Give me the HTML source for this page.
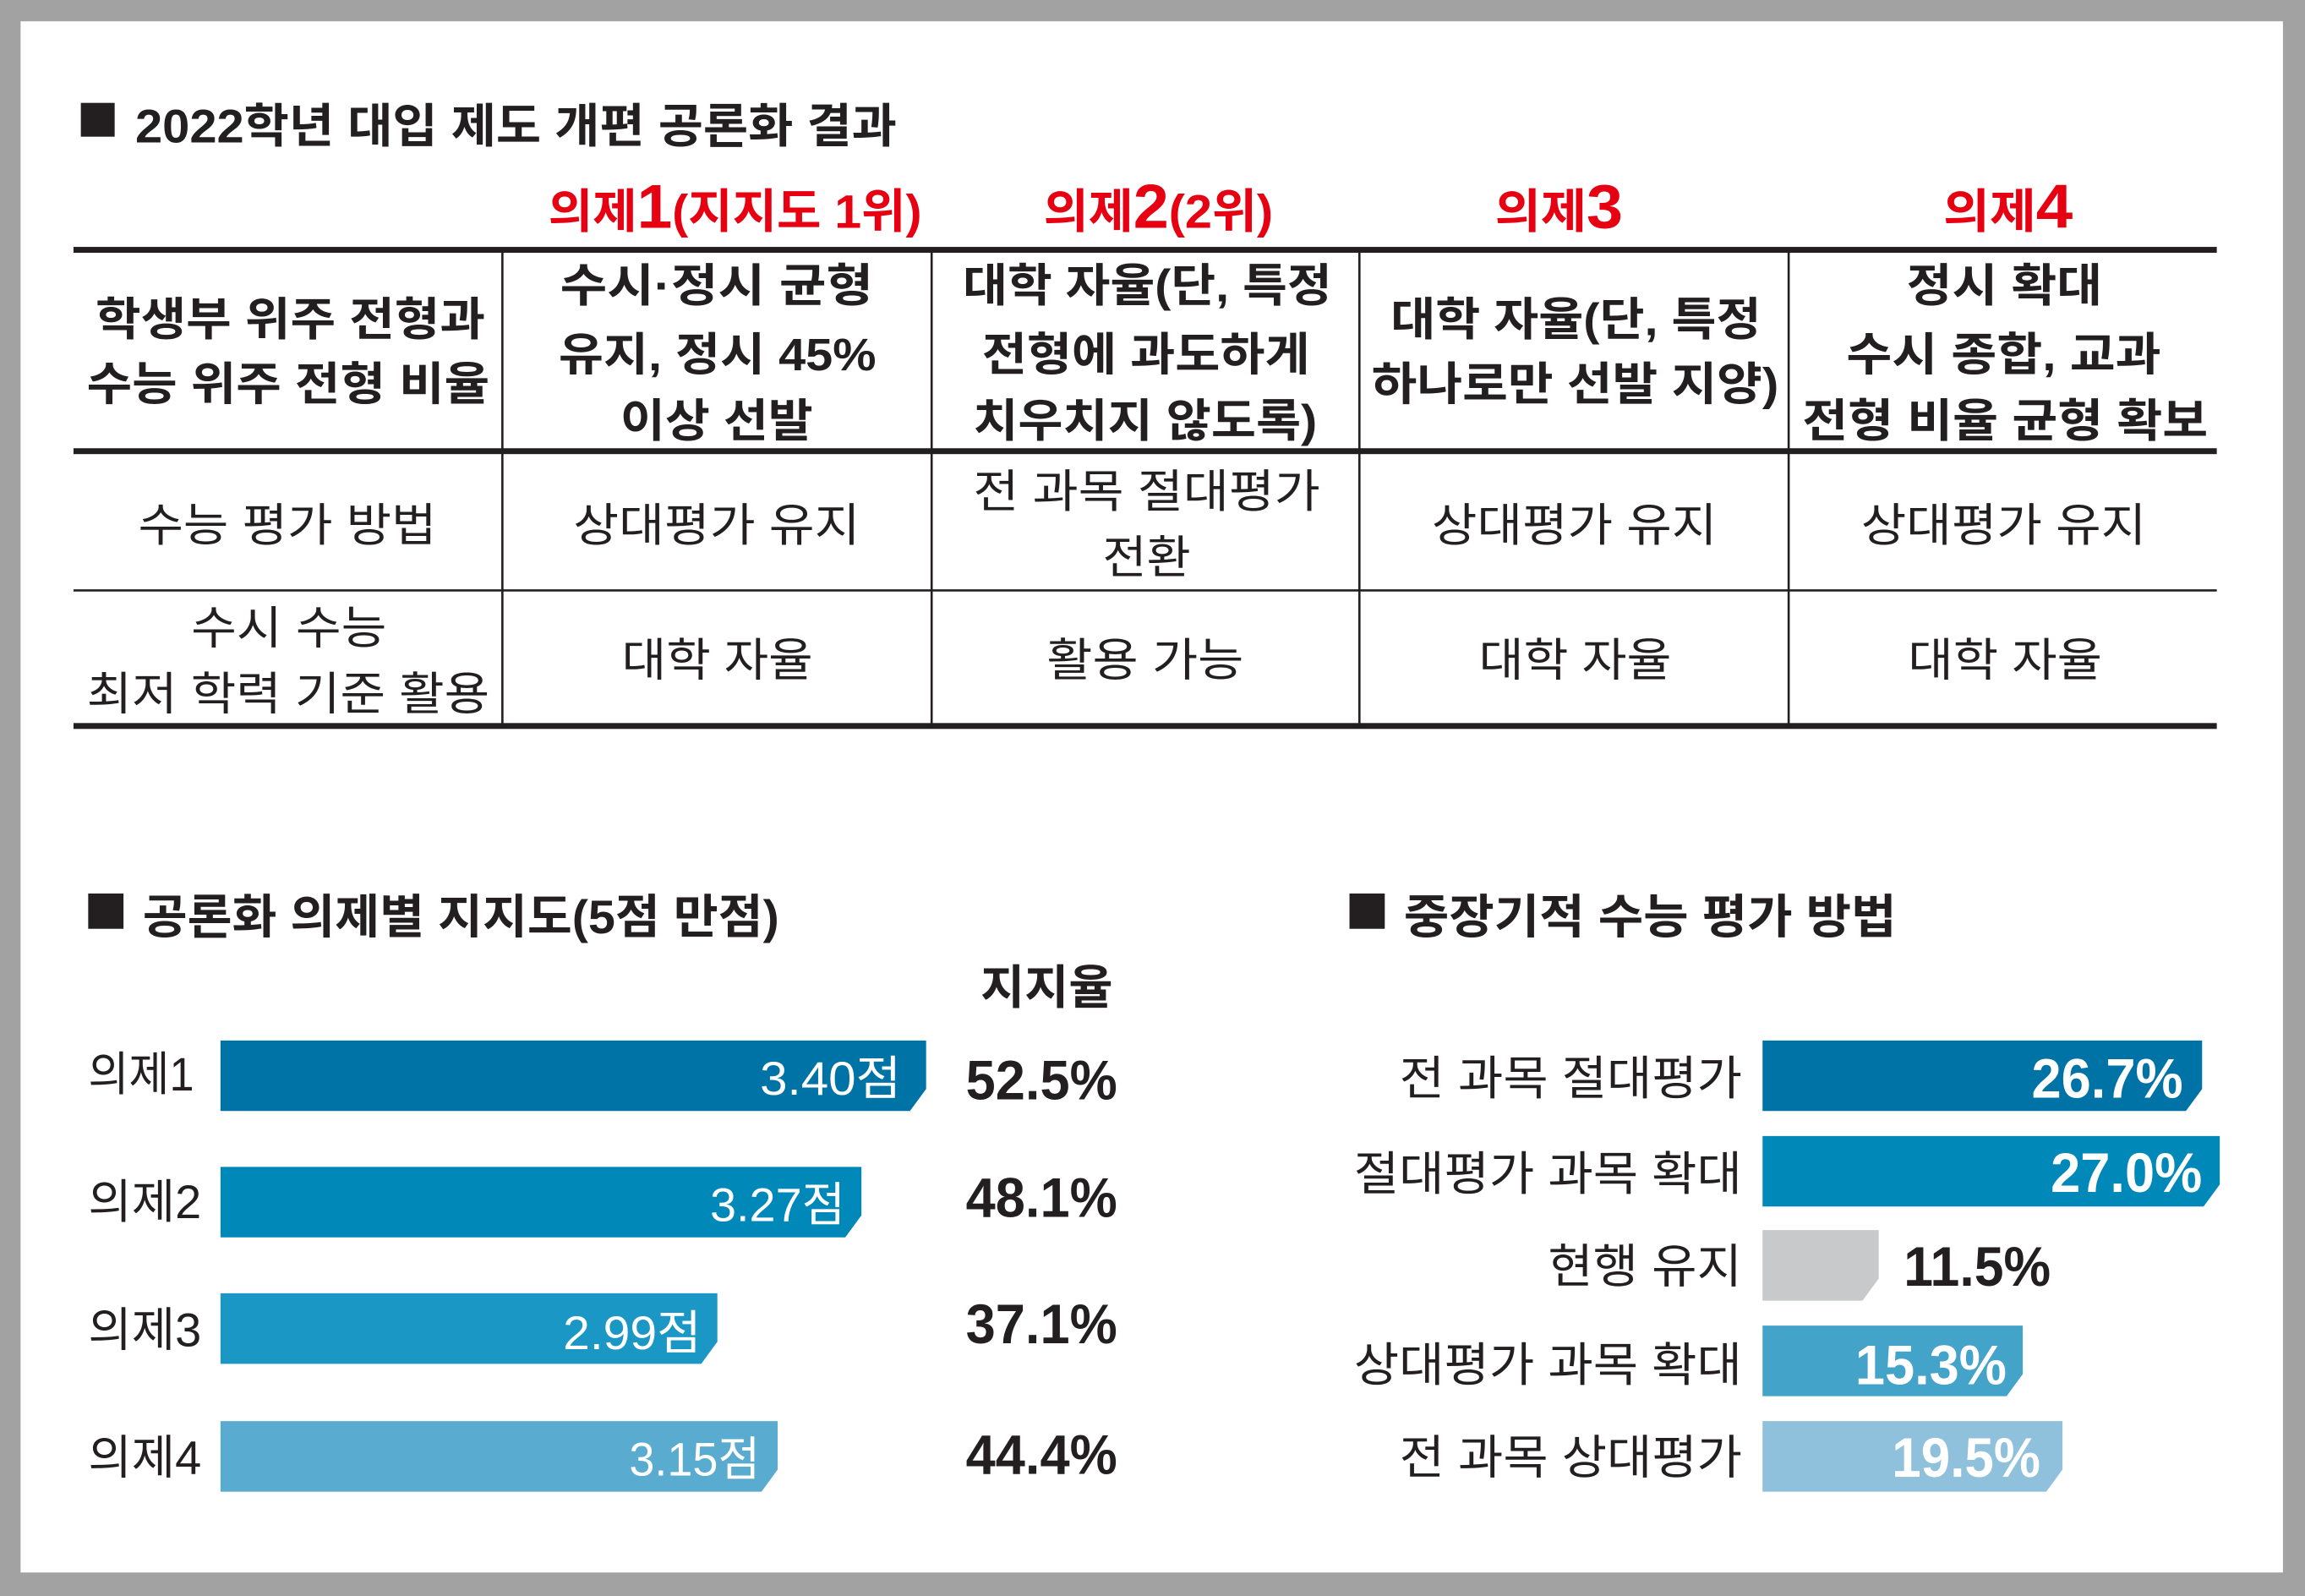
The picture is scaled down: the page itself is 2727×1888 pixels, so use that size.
<!DOCTYPE html>
<html><head><meta charset="utf-8"><style>
html,body{margin:0;padding:0;background:#a2a2a2;}
svg{display:block;}
text{font-family:"Liberation Sans","Noto Sans CJK KR",sans-serif;fill:#231f20;}
.b{font-weight:bold;}
.r{fill:#e60012;font-weight:bold;}
.w{fill:#fff;font-weight:bold;}
</style></head><body>
<svg width="2727" height="1888" viewBox="0 0 1568 1086" preserveAspectRatio="none" xmlns="http://www.w3.org/2000/svg">
<rect x="0" y="0" width="1568" height="1086" fill="#a2a2a2"/>
<rect x="14" y="14.5" width="1539" height="1055.5" fill="#fff"/>

<!-- title -->
<rect x="55" y="70" width="23" height="23" fill="#231f20"/>
<text x="92" y="97" font-size="32" class="b" textLength="518" lengthAdjust="spacingAndGlyphs">2022학년 대입 제도 개편 공론화 결과</text>

<!-- red headers -->
<text x="373" y="155" font-size="32" class="r" textLength="254" lengthAdjust="spacingAndGlyphs">의제<tspan font-size="42">1</tspan>(지지도 1위)</text>
<text x="710" y="155" font-size="32" class="r" textLength="156" lengthAdjust="spacingAndGlyphs">의제<tspan font-size="42">2</tspan>(2위)</text>
<text x="1017" y="155" font-size="32" class="r" textLength="87" lengthAdjust="spacingAndGlyphs">의제<tspan font-size="42">3</tspan></text>
<text x="1322" y="155" font-size="32" class="r" textLength="88" lengthAdjust="spacingAndGlyphs">의제<tspan font-size="42">4</tspan></text>

<!-- table lines -->
<rect x="50" y="168" width="1458" height="4" fill="#231f20"/>
<rect x="50" y="305" width="1458" height="4" fill="#231f20"/>
<rect x="50" y="401" width="1458" height="1.5" fill="#231f20"/>
<rect x="50" y="492" width="1458" height="4" fill="#231f20"/>
<g fill="#231f20">
<rect x="341" y="170" width="1.5" height="324"/>
<rect x="633" y="170" width="1.5" height="324"/>
<rect x="924" y="170" width="1.5" height="324"/>
<rect x="1216" y="170" width="1.5" height="324"/>
</g>

<!-- row1 -->
<g font-size="31" class="b" font-weight="bold">
<text x="65" y="228" textLength="265" lengthAdjust="spacingAndGlyphs" font-weight="bold">학생부 위주 전형과</text>
<text x="59" y="272" textLength="274" lengthAdjust="spacingAndGlyphs" font-weight="bold">수능 위주 전형 비율</text>
<text x="381" y="205" textLength="213" lengthAdjust="spacingAndGlyphs" font-weight="bold">수시·정시 균형</text>
<text x="380" y="252" textLength="216" lengthAdjust="spacingAndGlyphs" font-weight="bold">유지, 정시 45%</text>
<text x="422" y="297" textLength="131" lengthAdjust="spacingAndGlyphs" font-weight="bold">이상 선발</text>
<text x="655" y="205" textLength="251" lengthAdjust="spacingAndGlyphs" font-weight="bold">대학 자율(단, 특정</text>
<text x="668" y="252" textLength="223" lengthAdjust="spacingAndGlyphs" font-weight="bold">전형에 과도하게</text>
<text x="662" y="297" textLength="234" lengthAdjust="spacingAndGlyphs" font-weight="bold">치우치지 않도록)</text>
<text x="946" y="228" textLength="252" lengthAdjust="spacingAndGlyphs" font-weight="bold">대학 자율(단, 특정</text>
<text x="933" y="272" textLength="277" lengthAdjust="spacingAndGlyphs" font-weight="bold">하나로만 선발 지양)</text>
<text x="1297" y="205" textLength="133" lengthAdjust="spacingAndGlyphs" font-weight="bold">정시 확대</text>
<text x="1256" y="252" textLength="214" lengthAdjust="spacingAndGlyphs" font-weight="bold">수시 종합, 교과</text>
<text x="1226" y="297" textLength="276" lengthAdjust="spacingAndGlyphs" font-weight="bold">전형 비율 균형 확보</text>
</g>

<!-- row2/3 -->
<g font-size="31">
<text x="94" y="368" textLength="203" lengthAdjust="spacingAndGlyphs">수능 평가 방법</text>
<text x="390" y="368" textLength="195" lengthAdjust="spacingAndGlyphs">상대평가 유지</text>
<text x="662" y="345" textLength="236" lengthAdjust="spacingAndGlyphs">전 과목 절대평가</text>
<text x="750" y="390" textLength="60" lengthAdjust="spacingAndGlyphs">전환</text>
<text x="974" y="368" textLength="194" lengthAdjust="spacingAndGlyphs">상대평가 유지</text>
<text x="1266" y="368" textLength="194" lengthAdjust="spacingAndGlyphs">상대평가 유지</text>
<text x="130" y="438" textLength="133" lengthAdjust="spacingAndGlyphs">수시 수능</text>
<text x="59" y="483" textLength="274" lengthAdjust="spacingAndGlyphs">최저 학력 기준 활용</text>
<text x="423" y="460" textLength="130" lengthAdjust="spacingAndGlyphs">대학 자율</text>
<text x="712" y="460" textLength="134" lengthAdjust="spacingAndGlyphs">활용 가능</text>
<text x="1006" y="460" textLength="131" lengthAdjust="spacingAndGlyphs">대학 자율</text>
<text x="1298" y="460" textLength="132" lengthAdjust="spacingAndGlyphs">대학 자율</text>
</g>

<!-- left chart -->
<rect x="60" y="608" width="24" height="24" fill="#231f20"/>
<text x="97" y="635" font-size="32" class="b" textLength="433" lengthAdjust="spacingAndGlyphs">공론화 의제별 지지도(5점 만점)</text>
<text x="667" y="683" font-size="32" class="b" textLength="90" lengthAdjust="spacingAndGlyphs">지지율</text>

<polygon points="150,708 630,708 630,741 619,756 150,756" fill="#0073a6"/>
<polygon points="150,794 586,794 586,827 575,842 150,842" fill="#0088b8"/>
<polygon points="150,880 488,880 488,913 477,928 150,928" fill="#1a97c4"/>
<polygon points="150,967 529,967 529,1000 518,1015 150,1015" fill="#5aabd0"/>

<g font-size="32">
<text x="60" y="742" textLength="72" lengthAdjust="spacingAndGlyphs">의제1</text>
<text x="60" y="829" textLength="77" lengthAdjust="spacingAndGlyphs">의제2</text>
<text x="60" y="916" textLength="77" lengthAdjust="spacingAndGlyphs">의제3</text>
<text x="60" y="1003" textLength="77" lengthAdjust="spacingAndGlyphs">의제4</text>
</g>
<g font-size="32">
<text x="517" y="745" class="w" textLength="96" lengthAdjust="spacingAndGlyphs" style="font-weight:normal">3.40점</text>
<text x="483" y="831" class="w" textLength="92" lengthAdjust="spacingAndGlyphs" style="font-weight:normal">3.27점</text>
<text x="383" y="918" class="w" textLength="94" lengthAdjust="spacingAndGlyphs" style="font-weight:normal">2.99점</text>
<text x="428" y="1004" class="w" textLength="89" lengthAdjust="spacingAndGlyphs" style="font-weight:normal">3.15점</text>
</g>
<g font-size="38" font-weight="bold">
<text x="657" y="748" textLength="103" lengthAdjust="spacingAndGlyphs">52.5%</text>
<text x="657" y="828" textLength="103" lengthAdjust="spacingAndGlyphs">48.1%</text>
<text x="657" y="914" textLength="103" lengthAdjust="spacingAndGlyphs">37.1%</text>
<text x="657" y="1003" textLength="103" lengthAdjust="spacingAndGlyphs">44.4%</text>
</g>

<!-- right chart -->
<rect x="918" y="608" width="24" height="24" fill="#231f20"/>
<text x="955" y="635" font-size="32" class="b" textLength="335" lengthAdjust="spacingAndGlyphs">중장기적 수능 평가 방법</text>

<polygon points="1199,708 1498,708 1498,741 1487,756 1199,756" fill="#0073a6"/>
<polygon points="1199,773 1510,773 1510,806 1499,821 1199,821" fill="#0088b8"/>
<polygon points="1199,837 1278,837 1278,870 1267,885 1199,885" fill="#c8c9cb"/>
<polygon points="1199,902 1376,902 1376,935 1365,950 1199,950" fill="#44a3c9"/>
<polygon points="1199,967 1403,967 1403,1000 1392,1015 1199,1015" fill="#8fc1dc"/>

<g font-size="32" text-anchor="end">
<text x="1185" y="745" textLength="233" lengthAdjust="spacingAndGlyphs">전 과목 절대평가</text>
<text x="1185" y="810" textLength="264" lengthAdjust="spacingAndGlyphs">절대평가 과목 확대</text>
<text x="1185" y="873" textLength="132" lengthAdjust="spacingAndGlyphs">현행 유지</text>
<text x="1185" y="940" textLength="264" lengthAdjust="spacingAndGlyphs">상대평가 과목 확대</text>
<text x="1185" y="1003" textLength="233" lengthAdjust="spacingAndGlyphs">전 과목 상대평가</text>
</g>
<g font-size="38" font-weight="bold">
<text x="1382" y="747" class="w" textLength="103" lengthAdjust="spacingAndGlyphs">26.7%</text>
<text x="1395" y="811" class="w" textLength="103" lengthAdjust="spacingAndGlyphs">27.0%</text>
<text x="1295" y="875" textLength="100" lengthAdjust="spacingAndGlyphs">11.5%</text>
<text x="1262" y="942" class="w" textLength="103" lengthAdjust="spacingAndGlyphs">15.3%</text>
<text x="1287" y="1005" class="w" textLength="101" lengthAdjust="spacingAndGlyphs">19.5%</text>
</g>
</svg>
</body></html>
